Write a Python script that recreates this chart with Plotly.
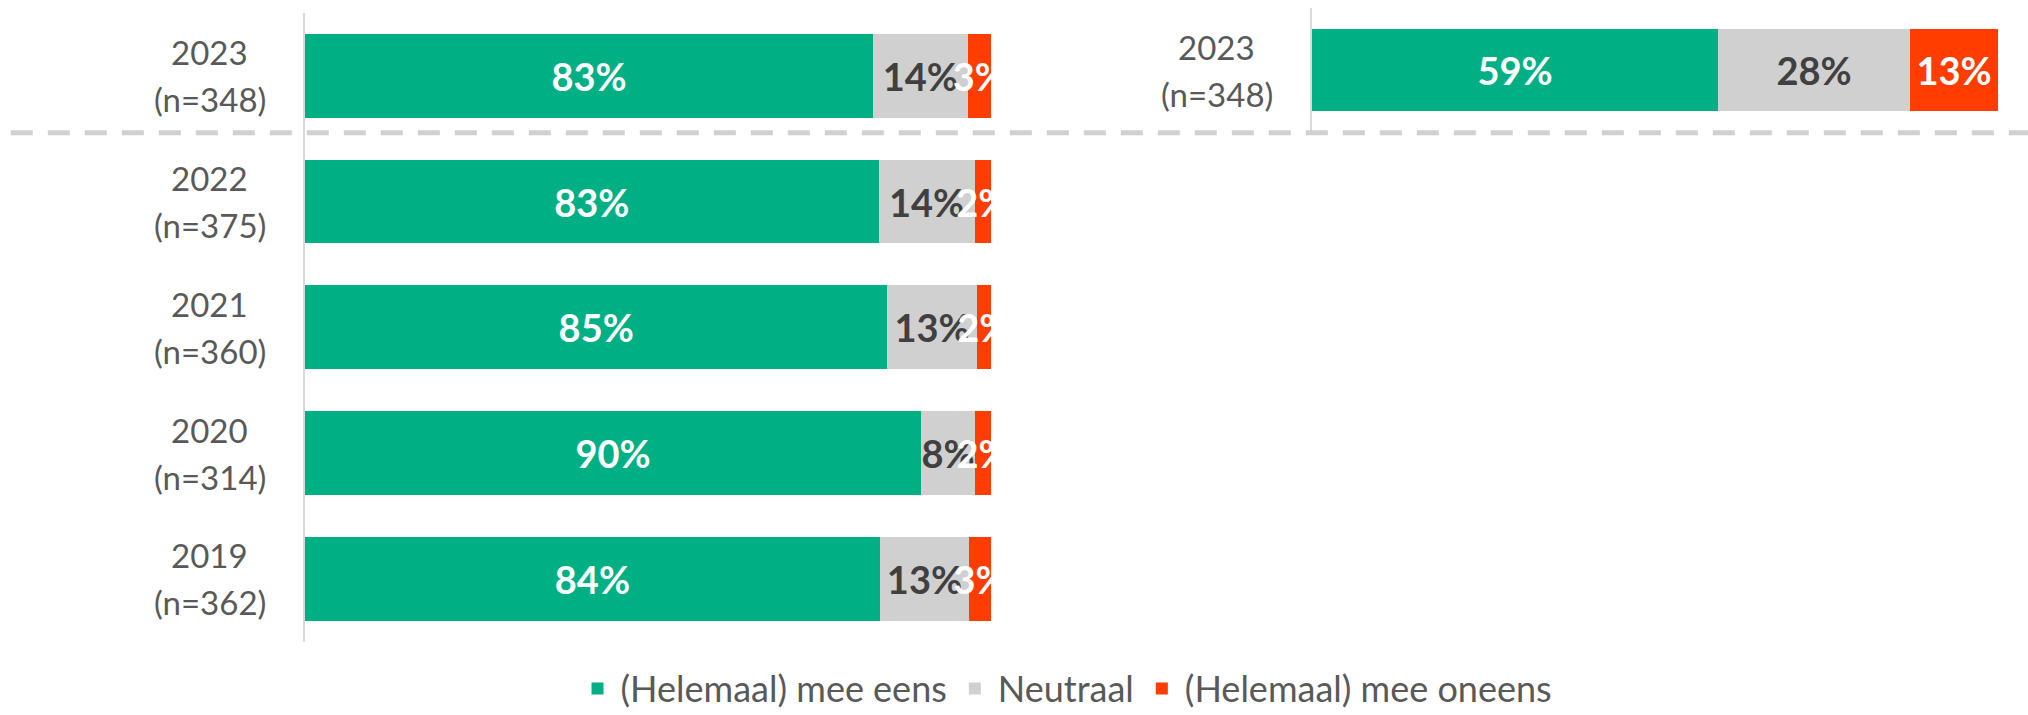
import plotly.graph_objects as go

# ---- data ----
years_left = ["2023", "2022", "2021", "2020", "2019"]
n_left = ["(n=348)", "(n=375)", "(n=360)", "(n=314)", "(n=362)"]
eens_left = [82.8, 83.6, 84.9, 89.8, 83.8]
neutraal_left = [13.8, 14.0, 13.0, 7.9, 13.0]
oneens_left = [3.4, 2.4, 2.1, 2.3, 3.2]
eens_left_lbl = ["83%", "83%", "85%", "90%", "84%"]
neutraal_left_lbl = ["14%", "14%", "13%", "8%", "13%"]
oneens_left_lbl = ["3%", "2%", "2%", "2%", "3%"]

years_right = ["2023"]
n_right = ["(n=348)"]
eens_right = [59.2]
neutraal_right = [28.0]
oneens_right = [12.8]
eens_right_lbl = ["59%"]
neutraal_right_lbl = ["28%"]
oneens_right_lbl = ["13%"]

series_names = ["(Helemaal) mee eens", "Neutraal", "(Helemaal) mee oneens"]
colors = ["#00B084", "#D0D0D0", "#FF3D00"]
text_colors = ["#FFFFFF", "#404040", "#FFFFFF"]

FONT = "Lato"
W, H = 2028, 715

fig = go.Figure()

left_vals = [eens_left, neutraal_left, oneens_left]
left_lbls = [eens_left_lbl, neutraal_left_lbl, oneens_left_lbl]
right_vals = [eens_right, neutraal_right, oneens_right]
right_lbls = [eens_right_lbl, neutraal_right_lbl, oneens_right_lbl]

for i in range(3):
    fig.add_trace(go.Bar(
        x=left_vals[i], y=years_left, orientation="h",
        name=series_names[i], legendgroup=series_names[i],
        marker=dict(color=colors[i], line=dict(width=0)),
        text=left_lbls[i], textposition="inside", insidetextanchor="middle",
        textangle=0, constraintext="none", cliponaxis=True,
        textfont=dict(family=FONT, size=38, color=text_colors[i], weight="bold"),
        hoverinfo="skip", xaxis="x", yaxis="y", showlegend=True,
    ))
for i in range(3):
    fig.add_trace(go.Bar(
        x=right_vals[i], y=years_right, orientation="h",
        name=series_names[i], legendgroup=series_names[i],
        marker=dict(color=colors[i], line=dict(width=0)),
        text=right_lbls[i], textposition="inside", insidetextanchor="middle",
        textangle=0, constraintext="none", cliponaxis=True,
        textfont=dict(family=FONT, size=38, color=text_colors[i], weight="bold"),
        hoverinfo="skip", xaxis="x2", yaxis="y2", showlegend=False,
    ))

# category labels (two centred lines), placed at the category index
label_font = dict(family=FONT, size=33, color="#595959")
for idx, (yr, n) in enumerate(zip(years_left, n_left)):
    for txt, shift in ((yr, 23.5), (n, -23.5)):
        fig.add_annotation(text=txt, xref="x domain", x=0, xanchor="center", xshift=-95.5,
                           yref="y", y=idx, yanchor="middle", yshift=shift,
                           showarrow=False, font=label_font)
for idx, (yr, n) in enumerate(zip(years_right, n_right)):
    for txt, shift in ((yr, 23.5), (n, -23.5)):
        fig.add_annotation(text=txt, xref="x2 domain", x=0, xanchor="center", xshift=-95.5,
                           yref="y2", y=idx, yanchor="middle", yshift=shift,
                           showarrow=False, font=label_font)

# dashed separator
fig.add_shape(type="line", xref="paper", yref="paper",
              x0=10.8 / W, x1=1, y0=1 - 132.7 / H, y1=1 - 132.7 / H,
              line=dict(color="#D0D0D0", width=5, dash="22px,15px"))

axis_common = dict(showgrid=False, zeroline=False, ticks="", showticklabels=False)
fig.update_layout(
    width=W, height=H, autosize=False,
    margin=dict(l=0, r=0, t=0, b=0, autoexpand=False),
    paper_bgcolor="white", plot_bgcolor="white",
    barmode="stack", bargap=0.334,
    font=dict(family=FONT, color="#595959"),
    xaxis=dict(domain=[305 / W, 991 / W], range=[0, 100], showline=False,
               anchor="y", **axis_common),
    yaxis=dict(domain=[1 - 641.6 / H, 1 - 13 / H], type="category",
               categoryorder="array", categoryarray=years_left,
               range=[4.5, -0.5], showline=True, linecolor="#D9D9D9", linewidth=2,
               anchor="x", **axis_common),
    xaxis2=dict(domain=[1312 / W, 1998 / W], range=[0, 100], showline=False,
                anchor="y2", **axis_common),
    yaxis2=dict(domain=[1 - 132 / H, 1 - 8 / H], type="category",
                categoryorder="array", categoryarray=years_right,
                range=[0.5, -0.5], showline=True, linecolor="#D9D9D9", linewidth=2,
                anchor="x2", **axis_common),
    legend=dict(orientation="h", x=1066 / W, xanchor="center", y=0.037, yanchor="middle",
                traceorder="normal", itemwidth=36,
                font=dict(family=FONT, size=36, color="#595959"),
                bgcolor="rgba(0,0,0,0)", itemclick=False, itemdoubleclick=False),
    showlegend=True,
)

fig.write_html("out.html",
               config={"displayModeBar": False},
               post_script="document.body.style.margin='0';document.body.style.padding='0';")
